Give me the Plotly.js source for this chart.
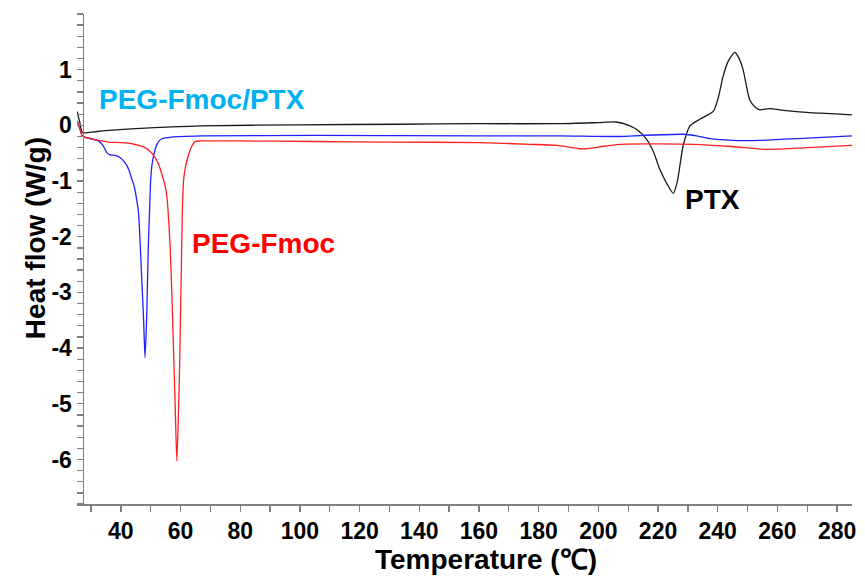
<!DOCTYPE html>
<html>
<head>
<meta charset="utf-8">
<script src="https://cdn.plot.ly/plotly-3.0.1.min.js"></script>
<style>html,body{margin:0;padding:0;background:#fff;}#chart{width:865px;height:579px;}</style>
</head>
<body>
<div id="chart"></div>
<script>
// PTX (black)
const ptxT = [25.3, 26.2, 27.1, 29, 32, 36, 45, 67, 100, 133, 160, 187, 200, 206, 210.6, 213, 216.2, 218.5, 220.6, 223, 225.1, 226.5, 228.4, 230.7, 234, 238.5, 240.2, 241.8, 243.5, 245.7, 247, 248.5, 250.7, 252.5, 254.1, 257.4, 262, 270.8, 278, 285];
const ptxV = [0.25, 0.06, -0.13, -0.13, -0.11, -0.09, -0.06, -0.01, 0.01, 0.02, 0.03, 0.03, 0.05, 0.06, -0.01, -0.08, -0.25, -0.48, -0.79, -1.05, -1.22, -1.0, -0.37, -0.01, 0.11, 0.25, 0.5, 0.88, 1.15, 1.31, 1.22, 1.0, 0.46, 0.33, 0.28, 0.30, 0.27, 0.23, 0.21, 0.19];

// PEG-Fmoc/PTX (blue)
const mixT = [25.3, 26.2, 27.1, 29, 32.5, 34, 35.3, 36.5, 38.1, 39.8, 41.4, 42.7, 43.7, 44.5, 45.1, 45.9, 46.5, 47.0, 47.6, 48.1, 48.7, 49.2, 49.6, 50.0, 50.5, 51.5, 52.5, 53.7, 57, 67, 104.5, 160, 187, 207, 215, 228.4, 233, 237.4, 245, 254.1, 270, 285];
const mixV = [0.08, -0.05, -0.19, -0.23, -0.28, -0.36, -0.49, -0.53, -0.54, -0.58, -0.67, -0.8, -0.97, -1.1, -1.27, -1.56, -2.16, -2.76, -3.47, -4.17, -3.35, -2.16, -1.56, -0.97, -0.68, -0.43, -0.3, -0.24, -0.21, -0.19, -0.18, -0.19, -0.19, -0.2, -0.18, -0.16, -0.19, -0.24, -0.27, -0.27, -0.23, -0.19];

// PEG-Fmoc (red)
const pegT = [25.3, 26.2, 27.1, 30, 35.9, 40, 43.7, 46, 48.1, 50, 51.5, 52.8, 53.9, 54.8, 55.4, 56.5, 57.1, 57.6, 58.2, 58.75, 59.3, 59.6, 60.2, 60.6, 61.0, 61.6, 62.3, 63.8, 64.9, 66.6, 80, 104.4, 130, 160.3, 177, 186, 193.8, 196, 200, 207.2, 231.8, 245, 256.3, 270, 285];
const pegV = [0.08, -0.05, -0.19, -0.24, -0.30, -0.31, -0.33, -0.36, -0.40, -0.48, -0.58, -0.72, -0.91, -1.08, -1.27, -2.16, -3.06, -3.95, -5.03, -6.03, -5.15, -4.55, -2.76, -1.56, -1.0, -0.76, -0.6, -0.37, -0.29, -0.28, -0.28, -0.29, -0.30, -0.31, -0.34, -0.36, -0.42, -0.42, -0.39, -0.34, -0.34, -0.38, -0.43, -0.40, -0.36];

const yTickVals = [-6, -5, -4, -3, -2, -1, 0, 1];
const yTickText = ['-6', '-5', '-4', '-3', '-2', '-1', '0', '1'];

const labelMix = 'PEG-Fmoc/PTX';
const labelPeg = 'PEG-Fmoc';
const labelPtx = 'PTX';
const xTitle = 'Temperature (℃)';
const yTitle = 'Heat flow (W/g)';

const FONT = 'Liberation Sans, Arial, sans-serif';

const traces = [
  {x: ptxT, y: ptxV, name: labelPtx, mode: 'lines', line: {color: '#1a1a1a', width: 1.3, shape: 'spline', smoothing: 0.6}},
  {x: mixT, y: mixV, name: labelMix, mode: 'lines', line: {color: '#1f1fff', width: 1.3, shape: 'spline', smoothing: 0.6}},
  {x: pegT, y: pegV, name: labelPeg, mode: 'lines', line: {color: '#ff1f1f', width: 1.3, shape: 'spline', smoothing: 0.6}}
];

const axisColor = '#808080';
const titleFont = {family: FONT, size: 28, color: '#000', weight: 'bold'};

const layout = {
  width: 865, height: 579,
  margin: {l: 77, r: 13, t: 14, b: 75, pad: 0},
  paper_bgcolor: '#fff', plot_bgcolor: '#fff',
  showlegend: false,
  font: {family: FONT, color: '#000'},
  xaxis: {
    range: [25.3, 285],
    tick0: 0, dtick: 20,
    ticks: 'outside', ticklen: 6, tickwidth: 1.3, tickcolor: axisColor,
    minor: {dtick: 10, tick0: 0, ticks: 'outside', ticklen: 6, tickwidth: 1.3, tickcolor: axisColor, showgrid: false},
    showline: true, linecolor: axisColor, linewidth: 1.5,
    showgrid: false, zeroline: false,
    tickfont: {family: FONT, size: 23, color: '#000', weight: 'bold'}
  },
  yaxis: {
    range: [-6.8, 2.0],
    anchor: 'free', position: 0.0071,
    tickmode: 'array', tickvals: yTickVals, ticktext: yTickText,
    ticks: 'outside', ticklen: 6, tickwidth: 1.3, tickcolor: axisColor,
    minor: {dtick: 0.2, tick0: 0, ticks: 'outside', ticklen: 6, tickwidth: 1.3, tickcolor: axisColor, showgrid: false},
    showline: true, linecolor: axisColor, linewidth: 1.5,
    showgrid: false, zeroline: false,
    tickfont: {family: FONT, size: 23, color: '#000', weight: 'bold'}
  },
  annotations: [
    {x: 0.5277, y: -0.114, xref: 'paper', yref: 'paper', xanchor: 'center', yanchor: 'middle', text: xTitle, showarrow: false, font: titleFont},
    {x: -0.0526, y: 0.543, xref: 'paper', yref: 'paper', xanchor: 'center', yanchor: 'middle', text: yTitle, textangle: -90, showarrow: false, font: titleFont},
    {x: 32.1, y: 0.46, xref: 'x', yref: 'y', xanchor: 'left', yanchor: 'middle', text: labelMix, showarrow: false,
     font: {family: FONT, size: 28, color: '#00B0F0', weight: 'bold'}},
    {x: 63.2, y: -2.13, xref: 'x', yref: 'y', xanchor: 'left', yanchor: 'middle', text: labelPeg, showarrow: false,
     font: {family: FONT, size: 28, color: '#FF0000', weight: 'bold'}},
    {x: 228.3, y: -1.33, xref: 'x', yref: 'y', xanchor: 'left', yanchor: 'middle', text: labelPtx, showarrow: false,
     font: {family: FONT, size: 28, color: '#000', weight: 'bold'}}
  ]
};

Plotly.newPlot('chart', traces, layout, {displayModeBar: false, staticPlot: true});
</script>
</body>
</html>
